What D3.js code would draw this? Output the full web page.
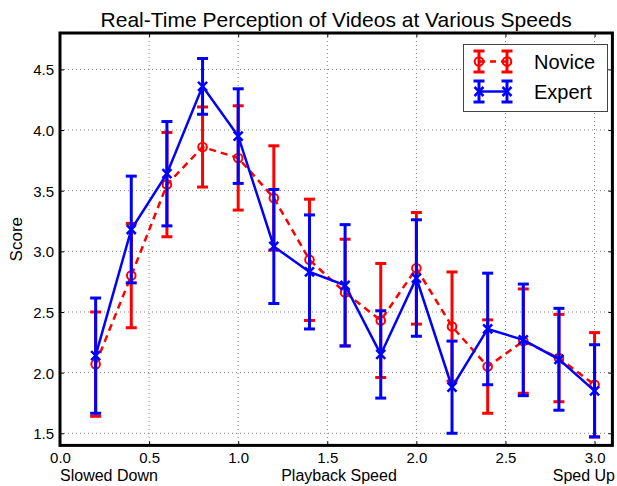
<!DOCTYPE html>
<html>
<head>
<meta charset="utf-8">
<script src="https://cdn.jsdelivr.net/npm/d3@7"></script>
<style>
  html, body { margin: 0; padding: 0; background: #fff; }
  svg { display: block; font-family: "Liberation Sans", Arial, Helvetica, sans-serif; }
</style>
</head>
<body>
<svg id="chart" width="617" height="486"></svg>
<script>
// ---- data ----
const speeds = [0.2, 0.4, 0.6, 0.8, 1.0, 1.2, 1.4, 1.6, 1.8, 2.0, 2.2, 2.4, 2.6, 2.8, 3.0];
const noviceMean = [2.07, 2.80, 3.55, 3.86, 3.77, 3.44, 2.93, 2.66, 2.43, 2.86, 2.38, 2.05, 2.26, 2.12, 1.90];
const noviceErr  = [0.43, 0.43, 0.43, 0.33, 0.43, 0.43, 0.50, 0.44, 0.47, 0.46, 0.45, 0.385, 0.43, 0.36, 0.43];
const expertMean = [2.14, 3.18, 3.64, 4.36, 3.95, 3.04, 2.83, 2.72, 2.15, 2.78, 1.88, 2.36, 2.27, 2.11, 1.85];
const expertErr  = [0.475, 0.44, 0.43, 0.23, 0.39, 0.47, 0.47, 0.50, 0.36, 0.48, 0.38, 0.46, 0.46, 0.42, 0.38];
const xTicks = [0.0, 0.5, 1.0, 1.5, 2.0, 2.5, 3.0];
const yTicks = [1.5, 2.0, 2.5, 3.0, 3.5, 4.0, 4.5];
const seriesNames = ["Novice", "Expert"];
const titleText = "Real-Time Perception of Videos at Various Speeds";
const xLabelParts = ["Slowed Down", "Playback Speed", "Sped Up"];
const yLabelText = "Score";

// ---- layout ----
const L = 60, R = 612.4, T = 33, B = 445.4;
const svg = d3.select("#chart");
const x = d3.scaleLinear().domain([0, 3.1]).range([L, R]);
const y = d3.scaleLinear().domain([1.4, 4.8]).range([B, T]);

// grid
const grid = svg.append("g");
grid.selectAll("line.gx").data(xTicks.filter(d => d > 0)).join("line")
  .attr("x1", d => x(d)).attr("x2", d => x(d)).attr("y1", T).attr("y2", B)
  .attr("stroke", "#808080").attr("stroke-width", 1).attr("stroke-dasharray", "1,3");
grid.selectAll("line.gy").data(yTicks).join("line")
  .attr("y1", d => y(d)).attr("y2", d => y(d)).attr("x1", L).attr("x2", R)
  .attr("stroke", "#808080").attr("stroke-width", 1).attr("stroke-dasharray", "1,3");

// axes (ticks inside, on all sides)
const tickFont = 15;
const xAxisB = d3.axisBottom(x).tickValues(xTicks).tickFormat(d3.format(".1f")).tickSizeInner(-4).tickSizeOuter(0).tickPadding(10);
const gxb = svg.append("g").attr("transform", `translate(0,${B})`).call(xAxisB);
const xAxisT = d3.axisTop(x).tickValues(xTicks).tickFormat("").tickSizeInner(-4).tickSizeOuter(0);
const gxt = svg.append("g").attr("transform", `translate(0,${T})`).call(xAxisT);
const yAxisL = d3.axisLeft(y).tickValues(yTicks).tickFormat(d3.format(".1f")).tickSizeInner(-4).tickSizeOuter(0).tickPadding(10);
const gyl = svg.append("g").attr("transform", `translate(${L},0)`).call(yAxisL);
const yAxisR = d3.axisRight(y).tickValues(yTicks).tickFormat("").tickSizeInner(-4).tickSizeOuter(0);
const gyr = svg.append("g").attr("transform", `translate(${R},0)`).call(yAxisR);
[gxb, gxt, gyl, gyr].forEach(g => {
  g.select(".domain").remove();
  g.selectAll(".tick line").attr("stroke", "#000").attr("stroke-width", 1);
  g.selectAll(".tick text").attr("font-size", tickFont).attr("fill", "#000")
    .attr("font-family", "Liberation Sans, Arial, sans-serif");
});
gyl.selectAll(".tick text").attr("x", -6).attr("dy", "0.36em");
gxb.selectAll(".tick text").attr("y", 7).attr("dy", "0.71em");

// series drawing
function drawSeries(mean, err, color, dash, marker) {
  const g = svg.append("g");
  const line = d3.line().x((d, i) => x(speeds[i])).y(d => y(d));
  g.selectAll("line.eb").data(mean).join("line")
    .attr("x1", (d, i) => x(speeds[i])).attr("x2", (d, i) => x(speeds[i]))
    .attr("y1", (d, i) => y(d - err[i])).attr("y2", (d, i) => y(d + err[i]))
    .attr("stroke", color).attr("stroke-width", 3);
  const caps = [];
  mean.forEach((d, i) => { caps.push([speeds[i], d - err[i]]); caps.push([speeds[i], d + err[i]]); });
  g.selectAll("line.cap").data(caps).join("line")
    .attr("x1", d => x(d[0]) - 5.5).attr("x2", d => x(d[0]) + 5.5)
    .attr("y1", d => y(d[1])).attr("y2", d => y(d[1]))
    .attr("stroke", color).attr("stroke-width", 3);
  g.append("path").datum(mean).attr("d", line)
    .attr("fill", "none").attr("stroke", color).attr("stroke-width", 2.5)
    .attr("stroke-dasharray", dash);
  mean.forEach((d, i) => drawMarker(g, x(speeds[i]), y(d), color, marker));
}
function drawMarker(g, cx, cy, color, marker) {
  if (marker === "o") {
    g.append("circle").attr("cx", cx).attr("cy", cy).attr("r", 4.3)
      .attr("fill", "none").attr("stroke", color).attr("stroke-width", 2);
  } else {
    const s = 4.5;
    g.append("path").attr("d", `M${cx - s},${cy - s}L${cx + s},${cy + s}M${cx - s},${cy + s}L${cx + s},${cy - s}`)
      .attr("stroke", color).attr("stroke-width", 2.5).attr("fill", "none");
  }
}
drawSeries(noviceMean, noviceErr, "#ff0000", "7,5", "o");
drawSeries(expertMean, expertErr, "#0000ff", null, "x");

// frame
svg.append("rect").attr("x", L).attr("y", T).attr("width", R - L).attr("height", B - T)
  .attr("fill", "none").attr("stroke", "#000").attr("stroke-width", 3);

// legend
const lg = svg.append("g");
lg.append("rect").attr("x", 463.5).attr("y", 44.5).attr("width", 144).attr("height", 67)
  .attr("fill", "#fff").attr("stroke", "#444").attr("stroke-width", 1);
const legendItems = [
  { name: seriesNames[0], color: "#ff0000", dash: "6,5", marker: "o", cy: 61.5 },
  { name: seriesNames[1], color: "#0000ff", dash: null, marker: "x", cy: 91.5 }
];
legendItems.forEach(it => {
  const xs = [479, 507];
  xs.forEach(px => {
    lg.append("line").attr("x1", px).attr("x2", px).attr("y1", it.cy - 10.5).attr("y2", it.cy + 10.5)
      .attr("stroke", it.color).attr("stroke-width", 3);
    [it.cy - 10.5, it.cy + 10.5].forEach(cyy => lg.append("line")
      .attr("x1", px - 5.5).attr("x2", px + 5.5).attr("y1", cyy).attr("y2", cyy)
      .attr("stroke", it.color).attr("stroke-width", 3));
  });
  lg.append("line").attr("x1", xs[0]).attr("x2", xs[1]).attr("y1", it.cy).attr("y2", it.cy)
    .attr("stroke", it.color).attr("stroke-width", 2.5).attr("stroke-dasharray", it.dash);
  xs.forEach(px => drawMarker(lg, px, it.cy, it.color, it.marker));
  lg.append("text").attr("x", 534).attr("y", it.cy + 7).attr("font-size", 20).attr("fill", "#000").text(it.name);
});

// title and labels
svg.append("text").attr("x", (L + R) / 2).attr("y", 27).attr("text-anchor", "middle")
  .attr("font-size", 21).attr("fill", "#000").text(titleText);
svg.append("text").attr("x", L).attr("y", 481).attr("text-anchor", "start").attr("font-size", 16).text(xLabelParts[0]);
svg.append("text").attr("x", 339).attr("y", 481).attr("text-anchor", "middle").attr("font-size", 16).text(xLabelParts[1]);
svg.append("text").attr("x", 615).attr("y", 481).attr("text-anchor", "end").attr("font-size", 16).text(xLabelParts[2]);
svg.append("text").attr("transform", `translate(22,${(T + B) / 2}) rotate(-90)`).attr("text-anchor", "middle")
  .attr("font-size", 17).text(yLabelText);
</script>
</body>
</html>
